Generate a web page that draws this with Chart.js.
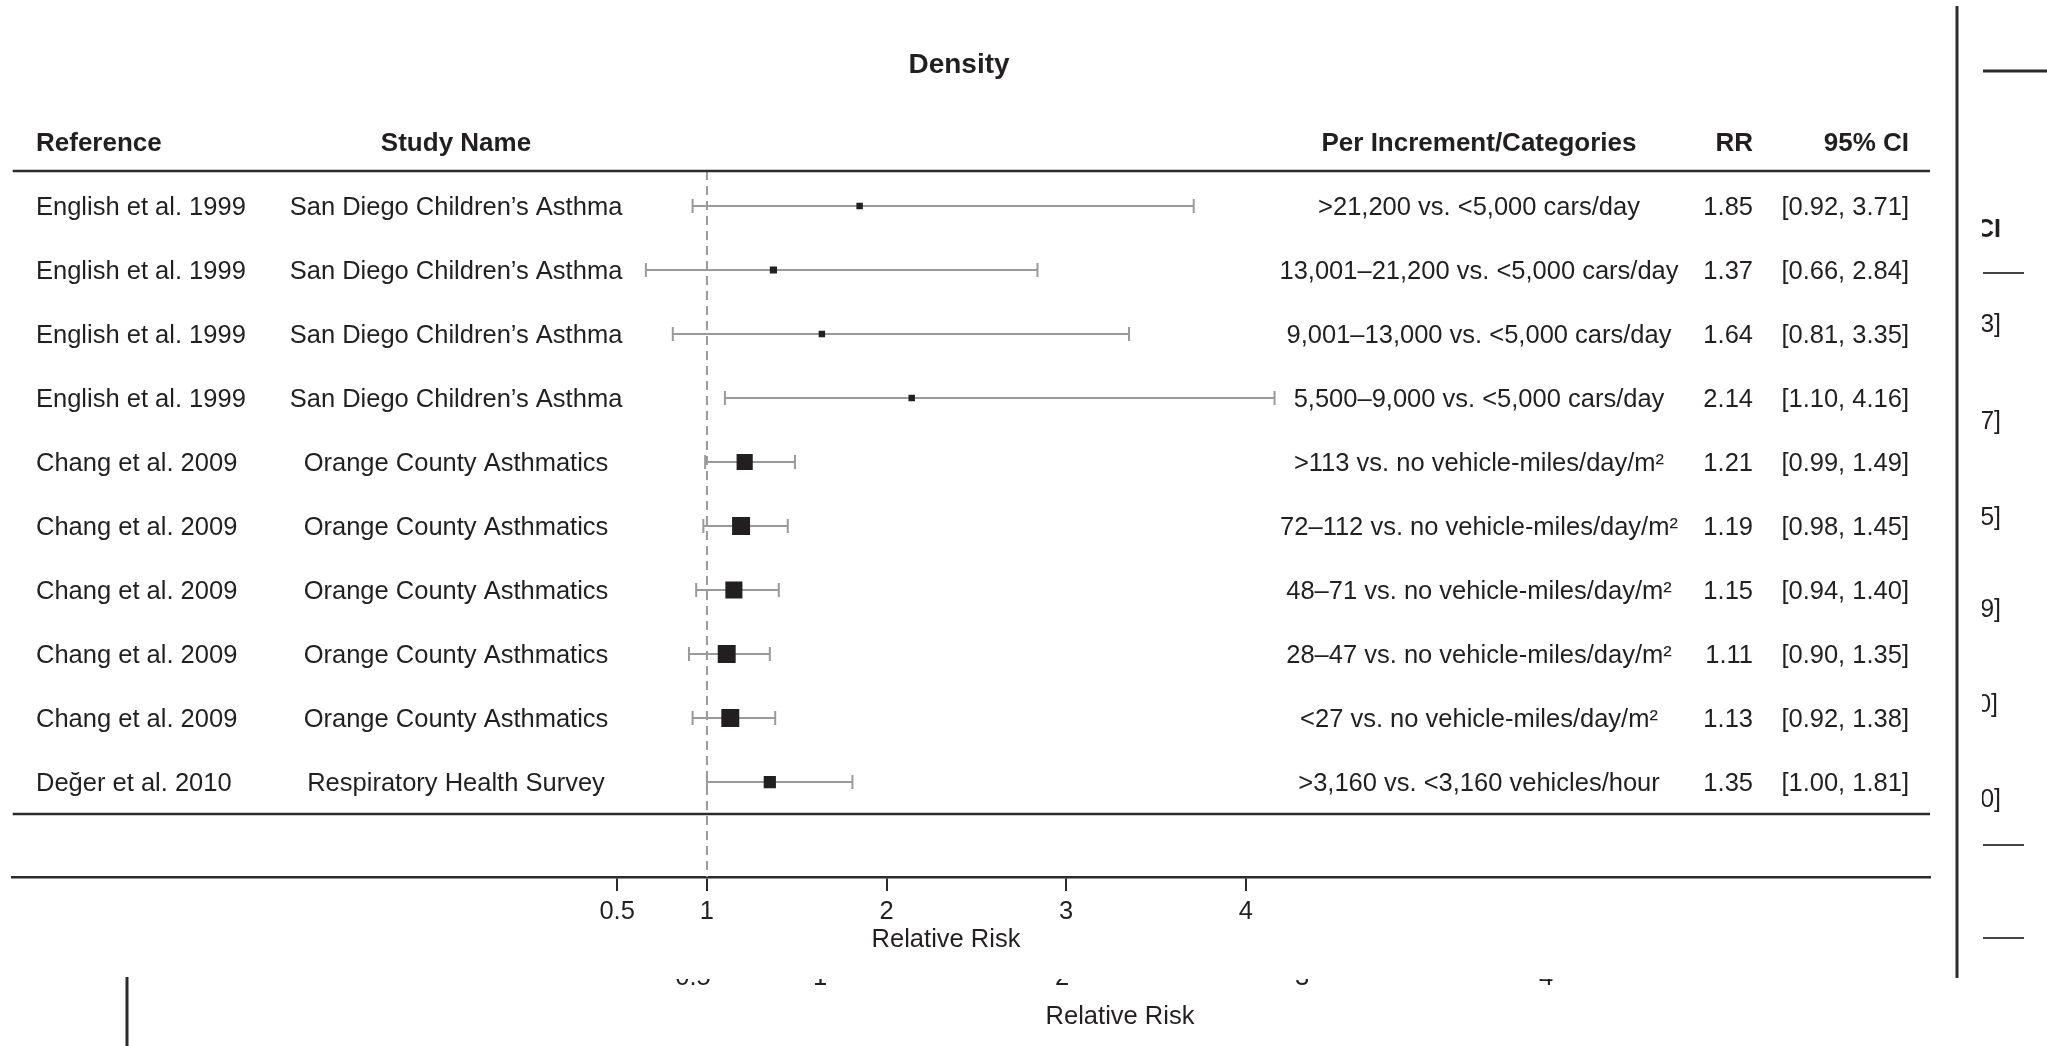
<!DOCTYPE html>
<html>
<head>
<meta charset="utf-8">
<script src="https://cdn.jsdelivr.net/npm/chart.js@4.4.0/dist/chart.umd.min.js"></script>
<style>
  html, body { margin: 0; padding: 0; background: #fff; }
  #wrap { width: 2047px; height: 1046px; }
</style>
</head>
<body>
<div id="wrap"><canvas id="forest" width="2047" height="1046"></canvas></div>
<script>
// rows, top to bottom
const references = [
  "English et al. 1999", "English et al. 1999", "English et al. 1999", "English et al. 1999",
  "Chang et al. 2009", "Chang et al. 2009", "Chang et al. 2009", "Chang et al. 2009", "Chang et al. 2009",
  "Değer et al. 2010"
];
const studies = [
  "San Diego Children’s Asthma", "San Diego Children’s Asthma", "San Diego Children’s Asthma", "San Diego Children’s Asthma",
  "Orange County Asthmatics", "Orange County Asthmatics", "Orange County Asthmatics", "Orange County Asthmatics", "Orange County Asthmatics",
  "Respiratory Health Survey"
];
const increments = [
  ">21,200 vs. <5,000 cars/day",
  "13,001–21,200 vs. <5,000 cars/day",
  "9,001–13,000 vs. <5,000 cars/day",
  "5,500–9,000 vs. <5,000 cars/day",
  ">113 vs. no vehicle-miles/day/m²",
  "72–112 vs. no vehicle-miles/day/m²",
  "48–71 vs. no vehicle-miles/day/m²",
  "28–47 vs. no vehicle-miles/day/m²",
  "<27 vs. no vehicle-miles/day/m²",
  ">3,160 vs. <3,160 vehicles/hour"
];
const rr     = [1.85, 1.37, 1.64, 2.14, 1.21, 1.19, 1.15, 1.11, 1.13, 1.35];
const ciLow  = [0.92, 0.66, 0.81, 1.10, 0.99, 0.98, 0.94, 0.90, 0.92, 1.00];
const ciHigh = [3.71, 2.84, 3.35, 4.16, 1.49, 1.45, 1.40, 1.35, 1.38, 1.81];
// relative study weight (box size)
const weights = [0.36, 0.4, 0.36, 0.36, 0.9, 1.0, 0.95, 1.0, 1.0, 0.68];

const headers = ["Reference", "Study Name", "Per Increment/Categories", "RR", "95% CI"];
const axisTicks = [0.5, 1, 2, 3, 4];
const chartTitle = "Density";
const axisTitle = "Relative Risk";

// bits of a second figure peeking out on the right / bottom
const ghostCi = ["3]", "7]", "5]", "9]", "0]", "0]"];
const ghostTicks = ["0.5", "1", "2", "3", "4"];

const FONT = "'Liberation Sans', Arial, Helvetica, sans-serif";
const INK = "#231f20";
const GREY = "#9a9a9a";

const ciSets = rr.map((v, i) => ({
  data: [{ x: ciLow[i], y: i }, { x: ciHigh[i], y: i }],
  showLine: true,
  borderColor: GREY,
  borderWidth: 2.2,
  pointStyle: "line",
  rotation: 90,
  pointRadius: 7,
  pointBorderColor: GREY,
  pointBorderWidth: 2,
  order: 2
}));

const estimates = {
  data: rr.map((v, i) => ({ x: v, y: i })),
  pointStyle: "rect",
  pointRadius: weights.map(w => w * 12.7),
  pointBackgroundColor: INK,
  pointBorderWidth: 0,
  order: 1
};

const forestTable = {
  id: "forestTable",
  beforeDatasetsDraw(chart) {
    const { ctx, chartArea: a, scales: { x, y } } = chart;
    ctx.save();
    // line of no effect
    const x1 = x.getPixelForValue(1);
    ctx.strokeStyle = GREY;
    ctx.lineWidth = 2;
    ctx.setLineDash([9, 6]);
    ctx.beginPath();
    ctx.moveTo(x1, a.top);
    ctx.lineTo(x1, a.bottom);
    ctx.stroke();
    ctx.setLineDash([]);
    // header / footer rules
    ctx.strokeStyle = "#2b2b2b";
    ctx.lineWidth = 2.5;
    [a.top, y.getPixelForValue(rr.length - 0.5)].forEach(py => {
      ctx.beginPath();
      ctx.moveTo(a.left, py);
      ctx.lineTo(a.right, py);
      ctx.stroke();
    });
    ctx.restore();
  },
  afterDraw(chart) {
    const { ctx, scales: { y } } = chart;
    ctx.save();
    ctx.fillStyle = INK;
    ctx.textBaseline = "middle";

    ctx.font = "bold 28px " + FONT;
    ctx.textAlign = "center";
    ctx.fillText(chartTitle, 959, 65);

    const cols = [
      { x: 36, align: "left" },
      { x: 456, align: "center" },
      { x: 1479, align: "center" },
      { x: 1753, align: "right" },
      { x: 1909, align: "right" }
    ];
    ctx.font = "bold 26px " + FONT;
    const hy = y.getPixelForValue(-1) + 2;
    headers.forEach((h, c) => {
      ctx.textAlign = cols[c].align;
      ctx.fillText(h, cols[c].x, hy);
    });

    ctx.font = "25.5px " + FONT;
    rr.forEach((v, i) => {
      const py = y.getPixelForValue(i) + 1.5;
      const cells = [references[i], studies[i], increments[i], v.toFixed(2),
        "[" + ciLow[i].toFixed(2) + ", " + ciHigh[i].toFixed(2) + "]"];
      cells.forEach((t, c) => {
        ctx.textAlign = cols[c].align;
        ctx.fillText(t, cols[c].x, py);
      });
    });

    ctx.textAlign = "center";
    ctx.fillText(axisTitle, 946, 940);

    // second figure showing behind
    ctx.strokeStyle = "#2b2b2b";
    ctx.lineWidth = 3;
    ctx.beginPath();
    ctx.moveTo(1957, 6); ctx.lineTo(1957, 978);
    ctx.moveTo(127, 977); ctx.lineTo(127, 1046);
    ctx.moveTo(1983, 71); ctx.lineTo(2047, 71);
    ctx.stroke();
    ctx.lineWidth = 2;
    ctx.strokeStyle = "#444";
    ctx.beginPath();
    [273, 845, 938].forEach(py => { ctx.moveTo(1983, py); ctx.lineTo(2024, py); });
    ctx.stroke();

    ctx.save();
    ctx.beginPath();
    ctx.rect(1982, 0, 65, 1046);
    ctx.clip();
    ctx.textAlign = "right";
    ctx.font = "bold 25px " + FONT;
    ctx.fillText("95% CI", 2001, 230);
    ctx.font = "25px " + FONT;
    [325, 422, 518, 610, 705, 800].forEach((py, i) => ctx.fillText(ghostCi[i], i === 4 ? 1998 : 2001, py));
    ctx.restore();

    ctx.save();
    ctx.beginPath();
    ctx.rect(0, 979, 2047, 67);
    ctx.clip();
    ctx.textAlign = "center";
    ctx.textBaseline = "alphabetic";
    [693, 820, 1062, 1302, 1546].forEach((px, i) => ctx.fillText(ghostTicks[i], px, 985));
    ctx.restore();
    ctx.textAlign = "center";
    ctx.fillText(axisTitle, 1120, 1017);

    ctx.restore();
  }
};

new Chart(document.getElementById("forest"), {
  type: "scatter",
  data: { datasets: [estimates, ...ciSets] },
  options: {
    responsive: false,
    animation: false,
    events: [],
    layout: { padding: { left: 12, right: 117, top: 171, bottom: 0 } },
    plugins: { legend: { display: false }, tooltip: { enabled: false } },
    scales: {
      x: {
        type: "linear",
        min: -2.865,
        max: 7.809,
        afterBuildTicks: scale => { scale.ticks = axisTicks.map(v => ({ value: v })); },
        afterFit: scale => { scale.height = 169; },
        border: { display: true, color: "#2b2b2b", width: 2.5 },
        grid: { drawOnChartArea: false, drawTicks: true, tickLength: 14, color: "#2b2b2b", lineWidth: 2 },
        ticks: {
          font: { family: FONT, size: 25.5 },
          color: INK,
          padding: 6,
          maxRotation: 0,
          autoSkip: false,
          callback: v => String(v)
        }
      },
      y: {
        type: "linear",
        display: false,
        reverse: true,
        min: -0.547,
        max: 10.484
      }
    }
  },
  plugins: [forestTable]
});
</script>
</body>
</html>
